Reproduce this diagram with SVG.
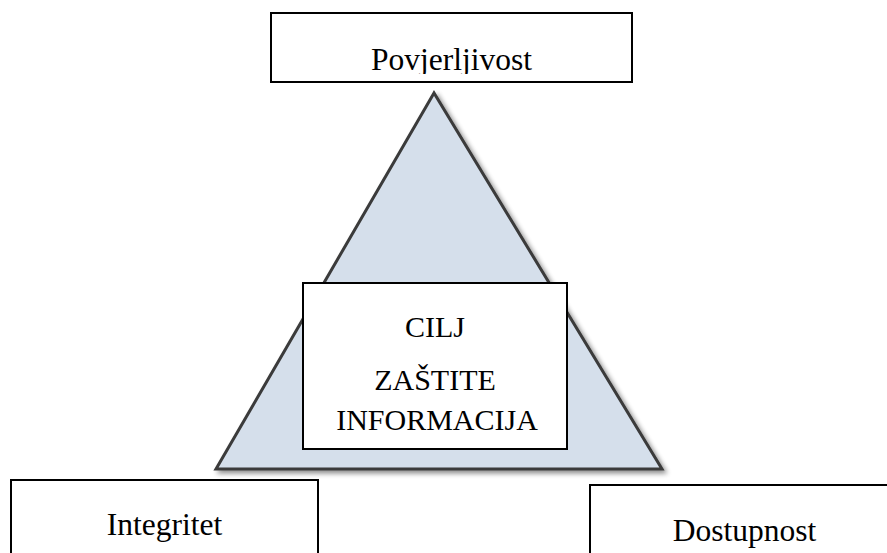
<svg xmlns="http://www.w3.org/2000/svg" width="887" height="553" viewBox="0 0 887 553">
<style>
.box{fill:#fff;stroke:#000;stroke-width:2}
.lbl{font-family:"Liberation Serif","Times New Roman",serif;font-size:31.5px;fill:#000;text-anchor:middle}
.ctr{font-family:"Liberation Serif","Times New Roman",serif;font-size:30px;fill:#000;text-anchor:middle}
</style>
<defs>
<filter id="sh" x="-10%" y="-10%" width="130%" height="130%">
<feGaussianBlur in="SourceAlpha" stdDeviation="2.5"/>
<feOffset dx="3" dy="3" result="b"/>
<feComponentTransfer><feFuncA type="linear" slope="0.45"/></feComponentTransfer>
<feMerge><feMergeNode/><feMergeNode in="SourceGraphic"/></feMerge>
</filter>
<clipPath id="topclip"><rect x="271" y="13" width="361" height="61"/></clipPath>
</defs>
<g id="triangle">
<polygon points="434,93 216,469 662,469" fill="#d5dfeb" stroke="#3a3a3a" stroke-width="3" stroke-linejoin="miter" filter="url(#sh)"/>
</g>
<g id="povjerljivost">
<rect class="box" x="271" y="13" width="361" height="69"/>
<text class="lbl" x="451.5" y="70" clip-path="url(#topclip)">Povjerljivost</text>
</g>
<g id="cilj">
<rect class="box" x="303" y="283" width="264" height="166"/>
<text class="ctr" x="435" y="337">CILJ</text>
<text class="ctr" x="435" y="390">ZAŠTITE</text>
<text class="ctr" x="437" y="430">INFORMACIJA</text>
</g>
<g id="integritet">
<rect class="box" x="11" y="480" width="307" height="90"/>
<text class="lbl" x="164.5" y="535">Integritet</text>
</g>
<g id="dostupnost">
<rect class="box" x="590" y="485" width="320" height="90"/>
<text class="lbl" x="744.5" y="541">Dostupnost</text>
</g>
<g id="connectors"/>
</svg>
